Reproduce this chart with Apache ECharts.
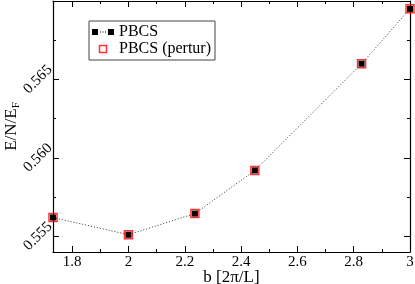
<!DOCTYPE html>
<html>
<head>
<meta charset="utf-8">
<script src="https://cdn.jsdelivr.net/npm/echarts@6/dist/echarts.min.js"></script>
<style>html,body{margin:0;padding:0;background:#fff;}#c{width:415px;height:284px;}</style>
</head>
<body>
<div id="c"></div>
<script>
// Data
var bValues = [1.732, 2.0, 2.236, 2.449, 2.828, 3.0];
var pbcs = [0.5562, 0.5551, 0.55645, 0.5592, 0.5660, 0.5695];
var pbcsPertur = [0.5562, 0.5551, 0.55645, 0.5592, 0.5660, 0.5695];
var xTicks = [1.8, 2.0, 2.2, 2.4, 2.6, 2.8, 3.0];
var xMinorTicks = [1.9, 2.1, 2.3, 2.5, 2.7, 2.9];
var yTicks = [0.555, 0.560, 0.565];
var yMinorTicks = [0.5575, 0.5625, 0.5675];
var xRange = [1.732, 3.0];
var yRange = [0.554, 0.570];

var FONT = 'Liberation Serif';
var chart = echarts.init(document.getElementById('c'));

function pairs(xs, ys) { return xs.map(function (x, i) { return [x, ys[i]]; }); }

function xAx(pos, ticks, len, showLine, showLabel) {
  return {
    type: 'value', position: pos, min: xRange[0], max: xRange[1],
    axisLine: { show: showLine, onZero: false, lineStyle: { color: '#000', width: 1.2 } },
    axisTick: { show: true, inside: true, length: len, customValues: ticks, lineStyle: { color: '#000', width: 1 } },
    axisLabel: { show: showLabel, customValues: ticks, margin: 3, fontFamily: FONT, fontSize: 15, color: '#000',
      formatter: function (v) { return String(+v.toFixed(1)); } },
    splitLine: { show: false }
  };
}
function yAx(pos, ticks, len, showLine, showLabel) {
  return {
    type: 'value', position: pos, min: yRange[0], max: yRange[1],
    axisLine: { show: showLine, onZero: false, lineStyle: { color: '#000', width: 1.2 } },
    axisTick: { show: true, inside: true, length: len, customValues: ticks, lineStyle: { color: '#000', width: 1 } },
    axisLabel: { show: showLabel, customValues: ticks, rotate: 45, align: 'center', verticalAlign: 'middle', margin: 15,
      fontFamily: FONT, fontSize: 15, color: '#000',
      formatter: function (v) { return v.toFixed(3); } },
    splitLine: { show: false }
  };
}

var xAxes = [xAx('bottom', xTicks, 6, true, true), xAx('bottom', xMinorTicks, 3, false, false),
             xAx('top', xTicks, 6, true, false), xAx('top', xMinorTicks, 3, false, false)];
xAxes[0].name = 'b [2\u03c0/L]';
xAxes[0].nameLocation = 'middle';
xAxes[0].nameGap = 17;
xAxes[0].nameMoveOverlap = false;
xAxes[0].nameTextStyle = { fontFamily: FONT, fontSize: 17, color: '#000', verticalAlign: 'top' };

var yAxes = [yAx('left', yTicks, 6, true, true), yAx('left', yMinorTicks, 3, false, false),
             yAx('right', yTicks, 6, true, false), yAx('right', yMinorTicks, 3, false, false)];
yAxes[0].name = '{a|E/N/E}{s|F}';
yAxes[0].nameLocation = 'middle';
yAxes[0].nameGap = 31;
yAxes[0].nameMoveOverlap = false;
yAxes[0].nameTextStyle = { fontFamily: FONT, color: '#000',
  rich: { a: { fontFamily: FONT, fontSize: 17, color: '#000' },
          s: { fontFamily: FONT, fontSize: 11, color: '#000', padding: [9, 0, 0, 0] } } };

chart.setOption({
  animation: false,
  backgroundColor: '#fff',
  grid: { left: 53, right: 5, top: 1, bottom: 32, containLabel: false, outerBoundsMode: 'none' },
  xAxis: xAxes,
  yAxis: yAxes,
  legend: {
    left: 89, top: 21, orient: 'vertical', itemWidth: 22, itemHeight: 7, itemGap: 1,
    padding: [3, 4, 3, 3], borderColor: '#444', borderWidth: 1,
    textStyle: { fontFamily: FONT, fontSize: 16, color: '#000', lineHeight: 15 },
    data: [
      { name: 'PBCS', icon: 'path://M0,0h6v6h-6zM16,0h6v6h-6zM8,2.5h1v1h-1zM10.5,2.5h1v1h-1zM13,2.5h1v1h-1z',
        itemStyle: { color: '#000' } },
      { name: 'PBCS (pertur)', icon: 'path://M0,0h10v10h-10z',
        itemStyle: { color: '#fff', borderColor: '#f00', borderWidth: 1.5 } }
    ]
  },
  series: [
    { name: 'PBCS (pertur)', type: 'scatter', xAxisIndex: 0, yAxisIndex: 0, data: pairs(bValues, pbcsPertur),
      symbol: 'rect', symbolSize: 8, clip: false, z: 2,
      itemStyle: { color: 'rgba(255,255,255,0)', borderColor: '#f00', borderWidth: 1.5 } },
    { name: 'PBCS', type: 'line', xAxisIndex: 0, yAxisIndex: 0, data: pairs(bValues, pbcs),
      symbol: 'rect', symbolSize: 6, showSymbol: true, clip: false, z: 3,
      itemStyle: { color: '#000' },
      lineStyle: { color: '#333', width: 1, type: [1, 2] } }
  ]
});
</script>
</body>
</html>
